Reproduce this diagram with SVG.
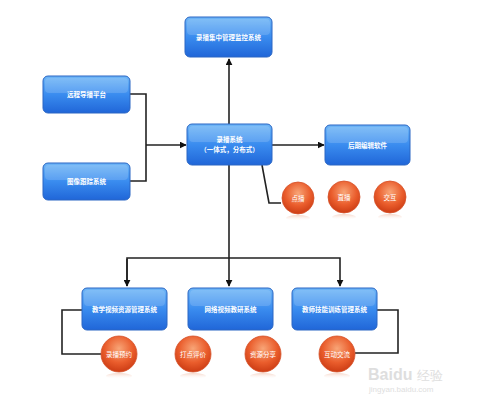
<svg xmlns="http://www.w3.org/2000/svg" width="480" height="402" viewBox="0 0 480 402">
<defs>
<linearGradient id="bg" x1="0" y1="0" x2="0" y2="1">
<stop offset="0" stop-color="#6fb6f6"/>
<stop offset="0.5" stop-color="#3a8cef"/>
<stop offset="1" stop-color="#2066d8"/>
</linearGradient>
<radialGradient id="og" cx="0.5" cy="0.35" r="0.65">
<stop offset="0" stop-color="#f8a577"/>
<stop offset="0.6" stop-color="#ea5d2c"/>
<stop offset="1" stop-color="#cc3c14"/>
</radialGradient>
<linearGradient id="refl" x1="0" y1="0" x2="0" y2="1">
<stop offset="0" stop-color="#f0b8a0" stop-opacity="0.6"/>
<stop offset="1" stop-color="#ffffff" stop-opacity="0"/>
</linearGradient>
<marker id="ar" viewBox="0 0 10 10" refX="9" refY="5" markerWidth="7" markerHeight="7" orient="auto" markerUnits="userSpaceOnUse">
<path d="M0,0 L10,5 L0,10 z" fill="#111"/>
</marker>
</defs>
<style>
.box{fill:url(#bg);stroke:#2a66c4;stroke-width:1}
.hl{fill:#ffffff;opacity:0.15}
.bt{font-family:"Noto Sans CJK SC","Noto Sans",sans-serif;font-size:6.5px;fill:#fff;font-weight:bold;text-anchor:middle}
.cir{fill:url(#og);stroke:#d5532b;stroke-width:0.8}
.ct{font-family:"Noto Sans CJK SC","Noto Sans",sans-serif;font-size:6.5px;fill:#fff;text-anchor:middle}
.ln{fill:none;stroke:#222;stroke-width:1.6}
.wm{font-family:"Liberation Sans",sans-serif;fill:#dedede}
</style>
<rect width="480" height="402" fill="#ffffff"/>
<g id="connectors">
<line class="ln" x1="229" y1="124" x2="229" y2="59" marker-end="url(#ar)"/>
<polyline class="ln" points="130,94 146,94 146,181 130,181"/>
<line class="ln" x1="146" y1="145" x2="186" y2="145" marker-end="url(#ar)"/>
<line class="ln" x1="272" y1="145" x2="324" y2="145" marker-end="url(#ar)"/>
<polyline class="ln" points="262,165 269,203 281,203"/>
<line class="ln" x1="229" y1="165" x2="229" y2="286" marker-end="url(#ar)"/>
<polyline class="ln" points="127,286 127,258 340,258 340,286" marker-end="url(#ar)"/>
<line class="ln" x1="127" y1="259" x2="127" y2="286" marker-end="url(#ar)"/>
<polyline class="ln" points="82,310 62,310 62,354 101,354"/>
<polyline class="ln" points="377,310 398,310 398,353 355,353"/>
</g>
<g id="n-top"><rect class="box" x="185" y="17" width="87" height="40" rx="5"/><rect class="hl" x="187" y="19" width="83" height="16" rx="4"/><text class="bt" x="228.5" y="39.5">录播集中管理监控系统</text></g>
<g id="n-left1"><rect class="box" x="43" y="76" width="87" height="37" rx="5"/><rect class="hl" x="45" y="78" width="83" height="15" rx="4"/><text class="bt" x="86.5" y="97">远程导播平台</text></g>
<g id="n-left2"><rect class="box" x="43" y="163" width="87" height="37" rx="5"/><rect class="hl" x="45" y="165" width="83" height="15" rx="4"/><text class="bt" x="86.5" y="184">图像跟踪系统</text></g>
<g id="n-center"><rect class="box" x="187" y="124" width="85" height="41" rx="5"/><rect class="hl" x="189" y="126" width="81" height="16" rx="4"/><text class="bt" x="229.5" y="142">录播系统</text><text class="bt" x="229.5" y="152">（一体式，分布式）</text></g>
<g id="n-right"><rect class="box" x="325" y="125" width="85" height="40" rx="5"/><rect class="hl" x="327" y="127" width="81" height="16" rx="4"/><text class="bt" x="367.5" y="147.5">后期编辑软件</text></g>
<g id="n-b1"><rect class="box" x="82" y="288" width="85" height="42" rx="5"/><rect class="hl" x="84" y="290" width="81" height="16" rx="4"/><text class="bt" x="124.5" y="311.5">教学视频资源管理系统</text></g>
<g id="n-b2"><rect class="box" x="188" y="288" width="85" height="42" rx="5"/><rect class="hl" x="190" y="290" width="81" height="16" rx="4"/><text class="bt" x="230.5" y="311.5">网络视频教研系统</text></g>
<g id="n-b3"><rect class="box" x="292" y="288" width="85" height="42" rx="5"/><rect class="hl" x="294" y="290" width="81" height="16" rx="4"/><text class="bt" x="334.5" y="311.5">教师技能训练管理系统</text></g>
<g id="c-dianbo"><ellipse cx="298" cy="218" rx="12" ry="3" fill="url(#refl)"/><circle class="cir" cx="298" cy="198" r="16"/><text class="ct" x="298" y="200.5">点播</text></g>
<g id="c-zhibo"><ellipse cx="344" cy="217" rx="12" ry="3" fill="url(#refl)"/><circle class="cir" cx="344" cy="197" r="16"/><text class="ct" x="344" y="199.5">直播</text></g>
<g id="c-jiaohu"><ellipse cx="390" cy="217" rx="12" ry="3" fill="url(#refl)"/><circle class="cir" cx="390" cy="197" r="16"/><text class="ct" x="390" y="199.5">交互</text></g>
<g id="c-yuyue"><ellipse cx="119" cy="376" rx="13" ry="3" fill="url(#refl)"/><circle class="cir" cx="119" cy="354" r="18"/><text class="ct" x="119" y="356.5">录播预约</text></g>
<g id="c-pingjia"><ellipse cx="193" cy="376" rx="13" ry="3" fill="url(#refl)"/><circle class="cir" cx="193" cy="354" r="18"/><text class="ct" x="193" y="356.5">打点评价</text></g>
<g id="c-fenxiang"><ellipse cx="263" cy="376" rx="13" ry="3" fill="url(#refl)"/><circle class="cir" cx="263" cy="354" r="18"/><text class="ct" x="263" y="356.5">资源分享</text></g>
<g id="c-jiaoliu"><ellipse cx="337" cy="376" rx="13" ry="3" fill="url(#refl)"/><circle class="cir" cx="337" cy="354" r="18"/><text class="ct" x="337" y="356.5">互动交流</text></g>
<g id="watermark"><text class="wm" x="368" y="380" font-size="16" font-weight="bold">Baidu</text><text class="wm" x="417" y="380" font-size="13" font-family="Noto Sans CJK SC,sans-serif">经验</text><text class="wm" x="369" y="392" font-size="8">jingyan.baidu.com</text></g>
</svg>
